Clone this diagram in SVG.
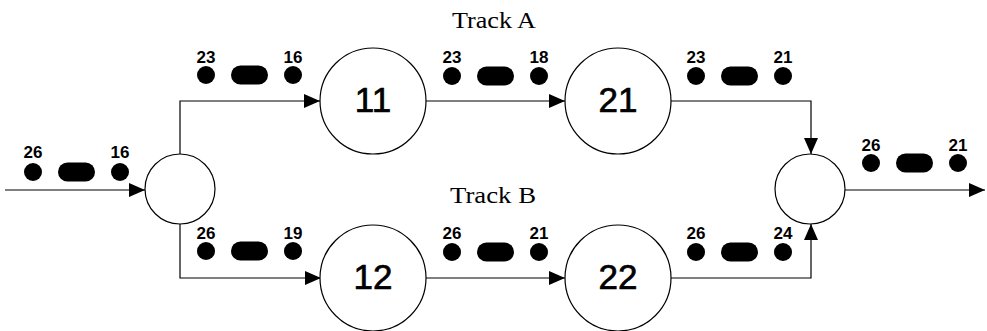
<svg xmlns="http://www.w3.org/2000/svg" width="987" height="331" viewBox="0 0 987 331">
  <defs>
    <style>
      .node { fill: #fff; stroke: #000; stroke-width: 1.2; }
      .wire { fill: none; stroke: #000; stroke-width: 1.2; }
      .num { font-family: "Liberation Sans", Arial, sans-serif; font-size: 35px; text-anchor: middle; fill: #000; stroke: #000; stroke-width: 0.7; }
      .tag { font-family: "Liberation Sans", Arial, sans-serif; font-size: 17px; font-weight: bold; text-anchor: middle; fill: #000; }
      .track { font-family: "Liberation Serif", "Times New Roman", serif; font-size: 23px; text-anchor: middle; fill: #000; }
      .dot { fill: #000; }
    </style>
    <marker id="arrow" markerWidth="16" markerHeight="14" refX="16" refY="7" orient="auto" markerUnits="userSpaceOnUse">
      <path d="M0,0 L16,7 L0,14 Z" fill="#000"/>
    </marker>
    <!-- a queue of items: first item, run of items, last item -->
    <g id="queue">
      <circle class="dot" cx="0" cy="0" r="9"/>
      <rect class="dot" x="25" y="-9.5" width="37" height="19" rx="9.5"/>
      <circle class="dot" cx="87" cy="0" r="9"/>
    </g>
  </defs>

  <!-- connectors -->
  <g id="connectors">
    <path class="wire" d="M5,190 H145" marker-end="url(#arrow)"/>
    <path class="wire" d="M180,155 V101 H320" marker-end="url(#arrow)"/>
    <path class="wire" d="M180,224 V278 H321" marker-end="url(#arrow)"/>
    <path class="wire" d="M426,101 H565" marker-end="url(#arrow)"/>
    <path class="wire" d="M426,278 H565" marker-end="url(#arrow)"/>
    <path class="wire" d="M670,101 H811 V154" marker-end="url(#arrow)"/>
    <path class="wire" d="M671,278 H811 V224" marker-end="url(#arrow)"/>
    <path class="wire" d="M845,190 H985" marker-end="url(#arrow)"/>
  </g>

  <!-- track labels -->
  <text class="track" x="494" y="28" textLength="84" lengthAdjust="spacingAndGlyphs">Track A</text>
  <text class="track" x="493" y="203" textLength="86" lengthAdjust="spacingAndGlyphs">Track B</text>

  <!-- nodes -->
  <g id="split">
    <circle class="node" cx="180" cy="189" r="35"/>
  </g>
  <g id="n11">
    <circle class="node" cx="373" cy="101" r="53"/>
    <text class="num" x="373" y="112">11</text>
  </g>
  <g id="n21">
    <circle class="node" cx="618" cy="101" r="53"/>
    <text class="num" x="618" y="112">21</text>
  </g>
  <g id="n12">
    <circle class="node" cx="373" cy="278" r="53"/>
    <text class="num" x="373" y="289">12</text>
  </g>
  <g id="n22">
    <circle class="node" cx="618" cy="278" r="53"/>
    <text class="num" x="618" y="289">22</text>
  </g>
  <g id="merge">
    <circle class="node" cx="810" cy="189" r="35"/>
  </g>

  <!-- item queues on each link -->
  <g id="q-in">
    <use href="#queue" x="33" y="172"/>
    <text class="tag" x="33" y="158">26</text>
    <text class="tag" x="120" y="158">16</text>
  </g>
  <g id="q-a1">
    <use href="#queue" x="206" y="75"/>
    <text class="tag" x="206" y="63">23</text>
    <text class="tag" x="293" y="63">16</text>
  </g>
  <g id="q-a2">
    <use href="#queue" x="452" y="76"/>
    <text class="tag" x="452" y="63">23</text>
    <text class="tag" x="539" y="63">18</text>
  </g>
  <g id="q-a3">
    <use href="#queue" x="696" y="76"/>
    <text class="tag" x="696" y="63">23</text>
    <text class="tag" x="783" y="63">21</text>
  </g>
  <g id="q-b1">
    <use href="#queue" x="206" y="251"/>
    <text class="tag" x="206" y="239">26</text>
    <text class="tag" x="293" y="239">19</text>
  </g>
  <g id="q-b2">
    <use href="#queue" x="452" y="252"/>
    <text class="tag" x="452" y="239">26</text>
    <text class="tag" x="539" y="239">21</text>
  </g>
  <g id="q-b3">
    <use href="#queue" x="696" y="252"/>
    <text class="tag" x="696" y="239">26</text>
    <text class="tag" x="783" y="239">24</text>
  </g>
  <g id="q-out">
    <use href="#queue" x="871" y="163"/>
    <text class="tag" x="871" y="151">26</text>
    <text class="tag" x="958" y="151">21</text>
  </g>
</svg>
